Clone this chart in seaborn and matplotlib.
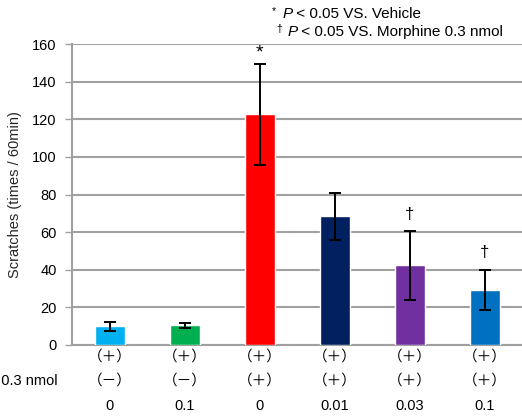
import matplotlib
matplotlib.use("Agg")
import matplotlib.pyplot as plt
import matplotlib.transforms as mtransforms
import seaborn as sns
import pandas as pd
import numpy as np

# Group values (scratches per 60 min), with error bars
groups = ["G1", "G2", "G3", "G4", "G5", "G6"]
means = [9.9, 10.4, 122.8, 68.7, 42.5, 29.4]
err_upper = [2.3, 1.1, 26.6, 12.2, 18.0, 10.6]
err_lower = [2.3, 1.4, 27.0, 12.9, 18.4, 11.0]
colors = ["#00B0F0", "#00B050", "#FF0000", "#002060", "#7030A0", "#0070C0"]

row1_labels = ["（＋）"] * 6
row2_labels = ["（－）", "（－）", "（＋）", "（＋）", "（＋）", "（＋）"]
row3_labels = ["0", "0.1", "0", "0.01", "0.03", "0.1"]
row2_title = "Morphine 0.3 nmol"

marks = ["", "", "*", "", "†", "†"]

yticks = [0, 20, 40, 60, 80, 100, 120, 140, 160]
ylabel = "Scratches (times / 60min)"
note1 = ("*", "P", " < 0.05 VS. Vehicle")
note2 = ("†", "P", " < 0.05 VS. Morphine 0.3 nmol")

sns.set_theme(style="white")
plt.rcParams["font.family"] = ["Liberation Sans", "Noto Sans CJK JP", "DejaVu Sans"]

W, H = 522, 417
fig = plt.figure(figsize=(W / 100, H / 100), dpi=100)
ax = fig.add_axes([72 / W, 1 - 345 / H, 450 / W, 301 / H])

df = pd.DataFrame({"group": groups, "mean": means})
sns.barplot(data=df, x="group", y="mean", hue="group", palette=colors,
            width=0.4, legend=False, saturation=1, ax=ax, zorder=3)

x = np.arange(len(groups))
ax.errorbar(x, means, yerr=[err_lower, err_upper], fmt="none", ecolor="black",
            elinewidth=1.4, capsize=4.5, capthick=1.4, zorder=4)

for xi, m, e, s in zip(x, means, err_upper, marks):
    if s == "*":
        ax.text(xi, m + e + 1.5, s, ha="center", va="bottom", fontsize=14,
                color="black")
    elif s:
        ax.text(xi, m + e + 5, s, ha="center", va="bottom", fontsize=12,
                color="black")

ax.set_ylim(0, 160)
ax.set_xlim(-0.5, 5.5)
ax.set_yticks(yticks)
ax.set_yticklabels([str(t) for t in yticks], fontsize=10.5, color="black")
ax.yaxis.grid(True, color="#a0a0a0", linewidth=1.5, zorder=0)
ax.set_axisbelow(True)
ax.set_xticks(x)
ax.set_xticklabels([])
ax.tick_params(axis="x", length=0)
ax.tick_params(axis="y", length=5, width=1, color="#a0a0a0", left=True, pad=6)
ax.set_xlabel("")
ax.set_ylabel(ylabel, fontsize=10.5, labelpad=7)
for side in ["top", "right"]:
    ax.spines[side].set_visible(False)
for side in ["left", "bottom"]:
    ax.spines[side].set_color("#a0a0a0")
    ax.spines[side].set_linewidth(1.5)

# Treatment rows under the bars
trans = mtransforms.blended_transform_factory(ax.transData, fig.transFigure)
for labels, ypx in [(row1_labels, 357), (row2_labels, 381), (row3_labels, 406)]:
    for xi, lab in zip(x, labels):
        ax.text(xi, 1 - ypx / H, lab, transform=trans, ha="center",
                va="center", fontsize=10.5, color="black")
fig.text(58 / W, 1 - 381 / H, row2_title, ha="right", va="center",
         fontsize=10.5, color="black")

# Significance notes
for (sym, p, rest), (xs, xp, ypx) in [(note1, (272, 283, 14)),
                                      (note2, (276, 288, 32))]:
    fig.text(xs / W, 1 - (ypx - 3) / H, sym, ha="left", va="center",
             fontsize=7.5, color="black")
    fig.text(xp / W, 1 - ypx / H, p, ha="left", va="center",
             fontsize=11, style="italic", color="black")
    fig.text((xp + 9) / W, 1 - ypx / H, rest, ha="left", va="center",
             fontsize=11, color="black")

fig.savefig("out.png", dpi=100)
